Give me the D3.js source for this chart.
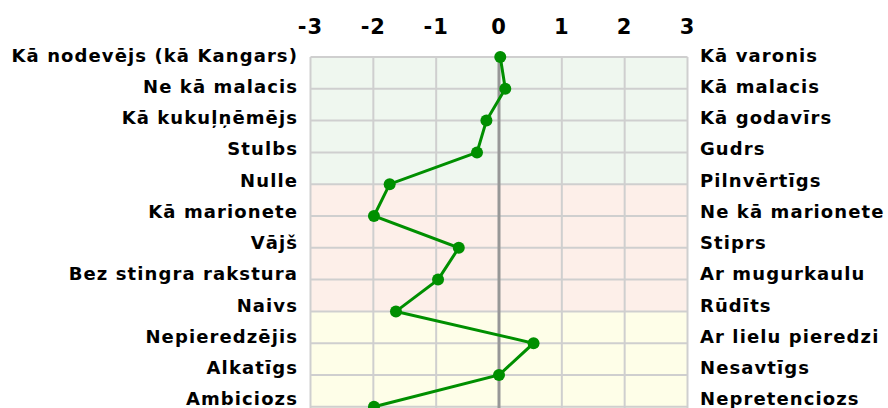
<!DOCTYPE html>
<html>
<head>
<meta charset="utf-8">
<script src="https://cdn.jsdelivr.net/npm/d3@7"></script>
<style>
  body { margin: 0; background: #fff; }
  text { font-family: "DejaVu Sans", Verdana, sans-serif; font-weight: bold; fill: #000; }
</style>
</head>
<body>
<svg width="888" height="408"></svg>
<script>
const leftLabels = ["Kā nodevējs (kā Kangars)", "Ne kā malacis", "Kā kukuļņēmējs", "Stulbs", "Nulle",
  "Kā marionete", "Vājš", "Bez stingra rakstura", "Naivs", "Nepieredzējis", "Alkatīgs", "Ambiciozs"];
const rightLabels = ["Kā varonis", "Kā malacis", "Kā godavīrs", "Gudrs", "Pilnvērtīgs",
  "Ne kā marionete", "Stiprs", "Ar mugurkaulu", "Rūdīts", "Ar lielu pieredzi", "Nesavtīgs", "Nepretenciozs"];
const scores = [0.02, 0.1, -0.2, -0.35, -1.74, -1.99, -0.64, -0.97, -1.64, 0.55, 0.0, -1.99];
const ticks = [-3, -2, -1, 0, 1, 2, 3];
// bands: start row, end row, fill
const bands = [
  {from: 0, to: 4, fill: "#eff7ef"},
  {from: 4, to: 8, fill: "#fdefe9"},
  {from: 8, to: 12, fill: "#fefee8"}
];

const svg = d3.select("svg");
const x = d3.scaleLinear().domain([-3, 3]).range([310.5, 687.5]);
const step = 31.8;
const y = d3.scaleLinear().domain([0, 11]).range([57, 57 + 11 * step]);
// the row labels sit in slightly tighter rows than the grid
const yLabel = d3.scaleLinear().domain([0, 11]).range([61.5, 61.5 + 11 * 31.25]);

const g = svg.append("g");

g.selectAll(".band").data(bands).enter().append("rect")
  .attr("x", x(-3)).attr("width", x(3) - x(-3))
  .attr("y", d => y(d.from)).attr("height", d => y(d.to) - y(d.from))
  .attr("fill", d => d.fill);

// horizontal grid
g.selectAll(".hg").data(d3.range(12)).enter().append("line")
  .attr("x1", x(-3)).attr("x2", x(3))
  .attr("y1", d => y(d)).attr("y2", d => y(d))
  .attr("stroke", "#cfcfcf").attr("stroke-width", 2);

// vertical grid
g.selectAll(".vg").data(ticks.filter(t => t !== 0)).enter().append("line")
  .attr("x1", d => x(d)).attr("x2", d => x(d))
  .attr("y1", y(0)).attr("y2", 440)
  .attr("stroke", "#cfcfcf").attr("stroke-width", 2);

g.append("line")
  .attr("x1", x(0)).attr("x2", x(0))
  .attr("y1", y(0)).attr("y2", 440)
  .attr("stroke", "#979797").attr("stroke-width", 3);

// top tick labels
svg.selectAll(".tick").data(ticks).enter().append("text")
  .attr("x", d => x(d)).attr("y", 34)
  .attr("text-anchor", "middle")
  .style("font-size", "21px")
  .style("letter-spacing", "1px")
  .text(d => d < 0 ? "-" + Math.abs(d) : d);

svg.selectAll(".ll").data(leftLabels).enter().append("text")
  .attr("x", 298).attr("y", (d, i) => yLabel(i))
  .attr("text-anchor", "end")
  .style("font-size", "18px")
  .style("letter-spacing", "1.1px")
  .text(d => d);

svg.selectAll(".rl").data(rightLabels).enter().append("text")
  .attr("x", 700).attr("y", (d, i) => yLabel(i))
  .style("font-size", "18px")
  .style("letter-spacing", "1.1px")
  .text(d => d);

const line = d3.line().x(d => x(d)).y((d, i) => y(i));
g.append("path").datum(scores)
  .attr("d", line)
  .attr("fill", "none")
  .attr("stroke", "#008f00")
  .attr("stroke-width", 3);

g.selectAll(".pt").data(scores).enter().append("circle")
  .attr("cx", d => x(d)).attr("cy", (d, i) => y(i))
  .attr("r", 6)
  .attr("fill", "#008f00");
</script>
</body>
</html>
